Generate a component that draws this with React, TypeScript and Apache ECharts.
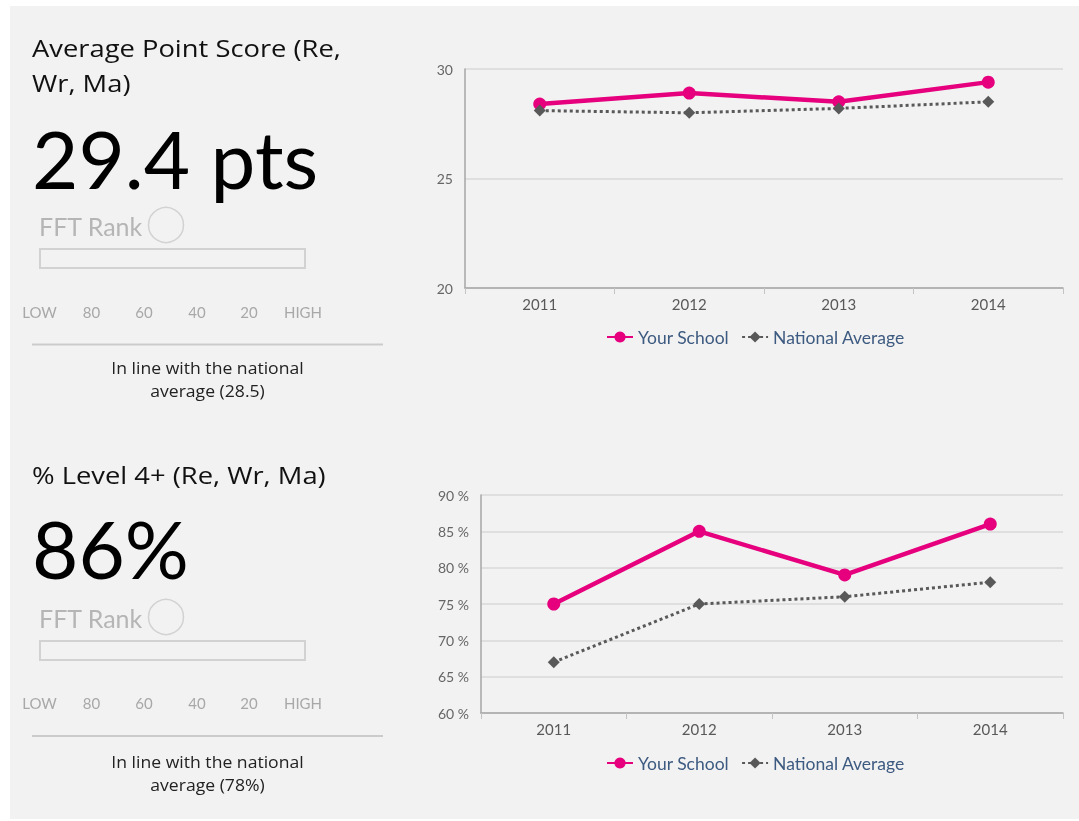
import React, { useEffect, useRef } from "react";
import * as echarts from "echarts";

const years = ["2011", "2012", "2013", "2014"];
const apsSchool = [28.4, 28.9, 28.5, 29.4];
const apsNational = [28.1, 28.0, 28.2, 28.5];
const l4School = [75, 85, 79, 86];
const l4National = [67, 75, 76, 78];
const rankLabels = ["LOW", "80", "60", "40", "20", "HIGH"];
const seriesNames = ["Your School", "National Average"];

const PINK = "#e6007e";
const GREY = "#595959";
const FONT = "Lato, 'Noto Sans', sans-serif";
const WIDE = "'Open Sans', 'Noto Sans', sans-serif";

export default function App() {
  const ref = useRef<HTMLDivElement>(null);
  useEffect(() => {
    const chart = echarts.init(ref.current!, null, { renderer: "svg" });

    const rankX = [39.5, 91.5, 144, 197, 249, 303];
    const leftPanel = (o: any) => {
      const els: any[] = [];
      o.title.forEach((t: string, i: number) =>
        els.push({
          type: "text", x: 32, y: o.titleY + i * 35, scaleX: 1.14,
          style: { text: t, font: `24px ${WIDE}`, fill: "#111", textAlign: "left", textVerticalAlign: "middle" },
        })
      );
      els.push({
        type: "text", x: 32, y: o.bigY,
        style: { text: o.big, font: `80px ${FONT}`, fill: "#000", textAlign: "left", textVerticalAlign: "middle" },
      });
      els.push({
        type: "text", x: 39, y: o.fftY,
        style: { text: "FFT Rank", font: `25px ${FONT}`, fill: "#b5b5b5", textAlign: "left", textVerticalAlign: "middle" },
      });
      els.push({
        type: "circle", shape: { cx: 166, cy: o.fftY - 1, r: 17.5 },
        style: { fill: "none", stroke: "#d2d2d2", lineWidth: 1.5 },
      });
      els.push({
        type: "rect", shape: { x: 40, y: o.rectY, width: 265, height: 19 },
        style: { fill: "none", stroke: "#d2d2d2", lineWidth: 2 },
      });
      rankLabels.forEach((t, i) =>
        els.push({
          type: "text", x: rankX[i], y: o.rankY,
          style: { text: t, font: `15px ${FONT}`, fill: "#a8a8a8", textAlign: "center", textVerticalAlign: "middle" },
        })
      );
      els.push({
        type: "line", shape: { x1: 32, y1: o.lineY, x2: 383, y2: o.lineY },
        style: { stroke: "#cbcbcb", lineWidth: 2 },
      });
      o.note.forEach((t: string, i: number) =>
        els.push({
          type: "text", x: 207.5, y: o.noteY + i * 23, scaleX: 1.1,
          style: { text: t, font: `16px ${WIDE}`, fill: "#222", textAlign: "center", textVerticalAlign: "middle" },
        })
      );
      return els;
    };

    const xAxis = (gi: number) => ({
      type: "category", gridIndex: gi, data: years, boundaryGap: true,
      axisLine: { lineStyle: { color: "#a6a6a6", width: 1.5 } },
      axisTick: { show: true, length: 6, lineStyle: { color: "#c4c4c4" } },
      axisLabel: { color: "#595959", fontSize: 15, fontFamily: FONT, margin: 8 },
      splitLine: { show: false },
    });
    const yAxis = (gi: number, min: number, max: number, fmt: string) => ({
      type: "value", gridIndex: gi, min, max, interval: 5,
      axisLine: { show: true, lineStyle: { color: "#a6a6a6", width: 1.5 } },
      axisTick: { show: false },
      axisLabel: { color: "#666", fontSize: 14, fontFamily: FONT, margin: 12, formatter: fmt, padding: [16, 0, 0, 0] },
      splitLine: { lineStyle: { color: "#d9d9d9", width: 1.5 } },
    });
    const mk = (name: string, data: number[], gi: number, school: boolean) =>
      school
        ? {
            name, type: "line", xAxisIndex: gi, yAxisIndex: gi, data,
            symbol: "circle", symbolSize: 13,
            lineStyle: { color: PINK, width: 4.5 }, itemStyle: { color: PINK },
          }
        : {
            name, type: "line", xAxisIndex: gi, yAxisIndex: gi, data,
            symbol: "diamond", symbolSize: 12,
            lineStyle: { color: GREY, width: 3, type: [3, 3] }, itemStyle: { color: GREY },
          };
    const legend = (top: number) => ({
      data: seriesNames, left: 601, top, itemWidth: 26, itemHeight: 14, itemGap: 12,
      textStyle: { color: "#3d5a80", fontSize: 17.5, fontFamily: FONT },
    });

    chart.setOption({
      animation: false,
      textStyle: { fontFamily: FONT },
      grid: [
        { left: 465, right: 16, top: 69, height: 219 },
        { left: 481, right: 16, top: 495, height: 218 },
      ],
      xAxis: [xAxis(0), xAxis(1)],
      yAxis: [yAxis(0, 20, 30, "{value}"), yAxis(1, 60, 90, "{value} %")],
      legend: [legend(323), legend(749)],
      series: [
        mk(seriesNames[0], apsSchool, 0, true),
        mk(seriesNames[1], apsNational, 0, false),
        mk(seriesNames[0], l4School, 1, true),
        mk(seriesNames[1], l4National, 1, false),
      ],
      graphic: [
        { type: "rect", z: -10, silent: true, shape: { x: 10, y: 6, width: 1069, height: 813 }, style: { fill: "#f2f2f2" } },
        ...leftPanel({
          title: ["Average Point Score (Re,", "Wr, Ma)"], titleY: 48,
          big: "29.4 pts", bigY: 158, fftY: 226, rectY: 249, rankY: 312, lineY: 344.5,
          note: ["In line with the national", "average (28.5)"], noteY: 368,
        }),
        ...leftPanel({
          title: ["% Level 4+ (Re, Wr, Ma)"], titleY: 475,
          big: "86%", bigY: 548, fftY: 618, rectY: 641, rankY: 703, lineY: 736,
          note: ["In line with the national", "average (78%)"], noteY: 761.5,
        }),
      ],
    });
    return () => chart.dispose();
  }, []);
  return <div ref={ref} style={{ position: "fixed", left: 0, top: 0, width: 1079, height: 821 }} />;
}
